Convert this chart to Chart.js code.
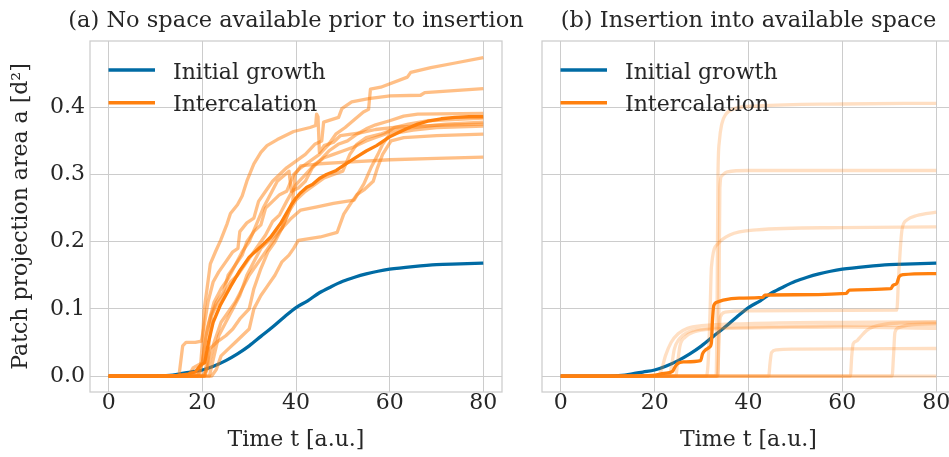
<!DOCTYPE html>
<html><head><meta charset="utf-8">
<script src="https://cdn.jsdelivr.net/npm/chart.js@4.4.1/dist/chart.umd.min.js"></script>
<style>
html,body{margin:0;padding:0;background:#fff;overflow:hidden;width:949px;height:457px;}
#wa{position:absolute;left:0;top:0;width:545px;height:457px;}
#wb{position:absolute;left:500px;top:0;width:470px;height:457px;}
</style></head><body>
<div id="wa"><canvas id="ca" width="545" height="457"></canvas></div>
<div id="wb"><canvas id="cb" width="470" height="457"></canvas></div>
<script>
// ---- data: [time, projection area] pairs ----
const xTickValues = [0, 20, 40, 60, 80];
const xTickLabels = ['0', '20', '40', '60', '80'];
const yTickValues = [0, 0.1, 0.2, 0.3, 0.4];
const yTickLabels = ['0.0', '0.1', '0.2', '0.3', '0.4'];

const initialGrowth = [[0,0],[10,0],[13,0.001],[15,0.003],[17.5,0.006],[20,0.009],[22.5,0.015],[25,0.023],[27.5,0.033],[30,0.045],[32.5,0.059],[35,0.073],[37.5,0.088],[40,0.102],[42.5,0.112],[45,0.124],[47.5,0.133],[50,0.141],[52.5,0.147],[55,0.152],[57.5,0.156],[60,0.159],[65,0.163],[70,0.166],[75,0.167],[80,0.168]];

// panel (a): mean intercalation and individual runs
const meanA = [[0,0],[10,0],[15,0.001],[17,0.003],[18.5,0.006],[19.6,0.016],[20.5,0.02],[21.3,0.05],[22.3,0.08],[23.8,0.105],[26,0.133],[28,0.157],[30,0.177],[32.4,0.192],[34.6,0.207],[36.7,0.227],[39,0.255],[40,0.265],[41,0.273],[42.3,0.281],[43.5,0.285],[45,0.294],[46.5,0.3],[48.6,0.306],[50.5,0.315],[52.9,0.326],[55,0.335],[57.2,0.343],[60,0.356],[62,0.363],[63.6,0.368],[66,0.375],[68.5,0.38],[71,0.383],[74,0.385],[77,0.386],[80,0.386]];
const runA1 = [[0,0],[14,0],[16,0.002],[19.5,0.004],[20,0.05],[20.4,0.1],[21,0.13],[21.7,0.167],[22.8,0.185],[23.9,0.202],[25.3,0.227],[26,0.242],[27.5,0.255],[28.5,0.268],[29.5,0.29],[31,0.316],[32.5,0.333],[33.8,0.343],[36,0.352],[39.5,0.364],[43,0.37],[44.2,0.373],[44.4,0.39],[44.7,0.386],[45,0.333],[46,0.343],[48,0.348],[49.5,0.358],[53.7,0.362],[57,0.367],[62,0.371],[70,0.373],[80,0.375]];
const runA2 = [[0,0],[15,0],[15.8,0.045],[16.5,0.05],[18.5,0.05],[19.8,0.052],[20.5,0.08],[21.2,0.11],[22.3,0.14],[23.5,0.155],[25,0.17],[26.5,0.185],[27.6,0.19],[28,0.215],[29.5,0.228],[31,0.235],[32,0.26],[33.5,0.275],[35,0.29],[36.5,0.3],[38,0.31],[40,0.32],[42,0.33],[44,0.345],[45.5,0.35],[45.9,0.378],[49.1,0.385],[49.8,0.398],[51.9,0.408],[55.5,0.413],[60.1,0.417],[66.6,0.418],[67.5,0.422],[80,0.428]];
const runA3 = [[0,0],[17,0],[18,0.012],[20,0.02],[20.8,0.06],[21.8,0.09],[23,0.11],[24.5,0.125],[25.5,0.15],[27,0.165],[28.5,0.18],[29.5,0.2],[31,0.215],[32.5,0.225],[33.5,0.25],[35,0.26],[36.5,0.27],[38,0.275],[39.5,0.3],[41,0.31],[43,0.32],[45,0.33],[47,0.345],[48.5,0.36],[50.5,0.37],[52.5,0.382],[54.4,0.393],[55.5,0.397],[55.9,0.427],[58.1,0.43],[63.8,0.445],[64.5,0.452],[68.8,0.459],[74,0.466],[80,0.474]];
const runA4 = [[0,0],[20,0],[21,0.01],[21.5,0.04],[23,0.05],[25,0.06],[26.5,0.07],[28,0.085],[30,0.1],[31,0.13],[32.5,0.16],[34,0.185],[35.5,0.2],[37,0.22],[38.5,0.245],[39.3,0.26],[39.8,0.3],[41,0.313],[45,0.316],[50,0.318],[60,0.322],[70,0.324],[80,0.326]];
const runA5 = [[0,0],[22,0],[23,0.01],[24,0.03],[25.5,0.04],[27,0.05],[28.5,0.06],[30,0.07],[31,0.1],[32.5,0.12],[34,0.135],[35.5,0.15],[37,0.17],[38.5,0.18],[39.5,0.19],[40.5,0.202],[45.2,0.207],[48.8,0.214],[50.2,0.241],[51.7,0.257],[53,0.27],[54.5,0.277],[56.5,0.29],[57.4,0.31],[58.5,0.33],[60.3,0.35],[63,0.355],[70,0.358],[80,0.36]];
const runA6 = [[0,0],[20.5,0],[21.5,0.02],[22.5,0.05],[24,0.08],[25.5,0.095],[27,0.11],[28.5,0.13],[30,0.15],[31.5,0.165],[33,0.18],[35,0.2],[37,0.22],[39,0.235],[41,0.247],[44.5,0.252],[48,0.257],[52.4,0.262],[54.5,0.286],[56,0.31],[57.5,0.33],[58.5,0.345],[60,0.36],[65,0.366],[70,0.37],[80,0.372]];
const runA7 = [[0,0],[21.5,0],[22.5,0.03],[23.5,0.06],[25,0.08],[26.5,0.1],[28,0.12],[29.5,0.15],[31,0.17],[32.5,0.19],[34,0.2],[35.5,0.21],[37,0.22],[38.5,0.245],[40,0.262],[42,0.275],[44,0.285],[46,0.295],[48,0.3],[50,0.305],[51.5,0.33],[53,0.345],[55,0.355],[58,0.36],[60,0.365],[65,0.37],[72,0.375],[80,0.378]];
const runA8 = [[0,0],[19,0],[20,0.02],[21,0.07],[22.5,0.11],[24,0.13],[25.5,0.145],[27,0.165],[28.5,0.185],[30,0.2],[31.5,0.225],[33,0.25],[34.5,0.27],[36,0.29],[38.5,0.305],[39,0.275],[40.5,0.28],[42,0.29],[43.5,0.31],[45,0.32],[47,0.335],[49,0.345],[51,0.35],[53,0.36],[55,0.368],[57,0.374],[60,0.38],[63,0.387],[66,0.39],[80,0.391]];
const runA9 = [[0,0],[20.5,0],[21.3,0.04],[22,0.09],[23,0.105],[24.5,0.12],[26,0.14],[27.5,0.15],[29,0.165],[30.5,0.18],[32,0.195],[33.5,0.21],[35,0.23],[36.5,0.24],[38,0.26],[40,0.285],[42,0.3],[44,0.315],[46,0.325],[48,0.33],[50,0.335],[52,0.34],[53.5,0.345],[55,0.35],[57,0.355],[59,0.36],[61,0.37],[64,0.375],[68,0.38],[80,0.384]];

// panel (b): mean intercalation and individual runs
const meanB = [[0,0],[15,0],[19.5,0.001],[22,0.004],[23.8,0.007],[24.3,0.013],[24.8,0.018],[26.1,0.021],[29.8,0.023],[30.2,0.033],[30.7,0.038],[31.7,0.043],[32.1,0.05],[32.3,0.08],[32.6,0.105],[33.3,0.11],[34.6,0.113],[38,0.116],[43,0.117],[43.5,0.1205],[50,0.121],[60.8,0.123],[61.5,0.128],[70.3,0.13],[70.8,0.135],[71.6,0.138],[72.1,0.148],[73,0.151],[80,0.1526]];
const runB1 = [[0,0],[33.1,0],[33.3,0.1],[33.5,0.3],[33.8,0.35],[34.3,0.375],[35.2,0.39],[37,0.398],[42,0.402],[60,0.405],[80,0.406]];
const runB2 = [[0,0],[33.5,0],[33.7,0.1],[33.9,0.28],[34.3,0.298],[35.5,0.304],[40,0.306],[80,0.306]];
const runB3 = [[0,0],[31,0],[31.4,0.02],[31.8,0.093],[32.1,0.162],[33.5,0.197],[36,0.21],[41.7,0.2175],[59.5,0.221],[80,0.222]];
const runB4 = [[0,0],[33.4,0],[33.7,0.05],[34,0.088],[35,0.095],[40,0.097],[71.6,0.098],[72,0.15],[72.7,0.2175],[73.7,0.232],[75.9,0.239],[80,0.244]];
const runB5 = [[0,0],[20.5,0],[21.5,0.01],[22.3,0.03],[23.5,0.05],[25,0.063],[27,0.071],[30,0.075],[40,0.078],[60,0.08],[80,0.081]];
const runB6 = [[0,0],[23,0],[23.6,0.015],[24.2,0.04],[25.2,0.055],[27,0.065],[30,0.07],[40,0.073],[60,0.075],[80,0.076]];
const runB7 = [[0,0],[24.5,0],[24.9,0.02],[25.4,0.045],[26.5,0.058],[28.5,0.066],[32,0.07],[45,0.072],[60,0.073],[80,0.071]];
const runB8 = [[0,0],[44.3,0],[44.6,0.02],[44.9,0.035],[46,0.039],[50,0.04],[80,0.041]];
const runB9 = [[0,0],[61.7,0],[62,0.03],[62.3,0.048],[63,0.052],[63.8,0.058],[65.2,0.068],[66.5,0.073],[68.8,0.077],[72,0.079],[80,0.08]];
const runB10 = [[0,0],[70.6,0],[70.9,0.03],[71.2,0.065],[72,0.072],[74,0.076],[80,0.078]];
const runB11 = [[0,0],[80,0]];

const runsA = [runA1, runA2, runA3, runA4, runA5, runA6, runA7, runA8, runA9];
const runsB = [runB1, runB2, runB3, runB4, runB5, runB6, runB7, runB8, runB9, runB10, runB11];

// ---- styling ----
const BLUE = '#006BA4';
const ORANGE = '#FF800E';
const TEXT = '#262626';
const GRID = '#cccccc';
const FONT = "'DejaVu Serif', serif";

const toXY = arr => arr.map(p => ({x: p[0], y: p[1]}));

const panelDecor = {
  id: 'panelDecor',
  afterDatasetsDraw(chart, args, opts) {
    const {ctx, chartArea: a} = chart;
    ctx.save();
    ctx.strokeStyle = GRID; ctx.lineWidth = 1.25;
    ctx.strokeRect(a.left, a.top, a.right - a.left, a.bottom - a.top);
    const items = chart.data.datasets.filter(d => d.inLegend);
    ctx.font = '22px ' + FONT;
    items.forEach((d, i) => {
      const y = a.top + 29 + i * 32.7;
      ctx.strokeStyle = d.borderColor; ctx.lineWidth = 3.5; ctx.lineCap = 'butt';
      ctx.beginPath(); ctx.moveTo(a.left + 18.5, y); ctx.lineTo(a.left + 65, y); ctx.stroke();
      ctx.fillStyle = TEXT; ctx.textAlign = 'left'; ctx.textBaseline = 'alphabetic';
      ctx.fillText(d.label, a.left + 83, y + 8.5);
    });
    ctx.font = '22.5px ' + FONT;
    ctx.fillStyle = TEXT; ctx.textAlign = 'center'; ctx.textBaseline = 'alphabetic';
    ctx.fillText(opts.title, (a.left + a.right) / 2, 27);
    ctx.restore();
  }
};

function makeChart(id, runs, alpha, mean, title, showY, yWidth, padRight, smoothRuns) {
  const common = {borderWidth: 3.3, pointRadius: 0, fill: false, borderJoinStyle: 'round', borderCapStyle: 'butt'};
  const runStyle = smoothRuns ? {cubicInterpolationMode: 'monotone'} : {tension: 0};
  const datasets = [];
  datasets.push(Object.assign({label: 'Initial growth', data: toXY(initialGrowth), borderColor: BLUE, order: 2, inLegend: true, cubicInterpolationMode: 'monotone'}, common));
  runs.forEach((r, i) => datasets.push(Object.assign({label: 'run ' + (i + 1), data: toXY(r), borderColor: 'rgba(255,128,14,' + alpha + ')', order: 1}, runStyle, common)));
  datasets.push(Object.assign({label: 'Intercalation', data: toXY(mean), borderColor: ORANGE, order: 0, inLegend: true}, runStyle, common));
  return new Chart(document.getElementById(id), {
    type: 'line',
    data: {datasets},
    plugins: [panelDecor],
    options: {
      responsive: false, animation: false, devicePixelRatio: 1,
      layout: {padding: {top: 41, right: padRight, left: 0, bottom: 0}},
      plugins: {legend: {display: false}, tooltip: {enabled: false}, title: {display: false}, panelDecor: {title}},
      scales: {
        x: {
          type: 'linear', min: -4, max: 84,
          afterBuildTicks: s => { s.ticks = xTickValues.map(v => ({value: v})); },
          afterFit: s => { s.height = 65; },
          ticks: {callback: (v, i) => xTickLabels[i], font: {family: FONT, size: 22}, color: TEXT, padding: -2, maxRotation: 0, autoSkip: false},
          grid: {color: GRID, lineWidth: 1, drawTicks: false},
          border: {display: false},
          title: {display: true, text: 'Time t [a.u.]', font: {family: FONT, size: 22}, color: TEXT, padding: {top: 0, bottom: 4}}
        },
        y: {
          type: 'linear', min: -0.02375, max: 0.49875,
          afterBuildTicks: s => { s.ticks = yTickValues.map(v => ({value: v})); },
          afterFit: s => { s.width = yWidth; },
          ticks: {display: showY, callback: (v, i) => yTickLabels[i], font: {family: FONT, size: 22}, color: TEXT, padding: 5},
          grid: {color: GRID, lineWidth: 1, drawTicks: false},
          border: {display: false},
          title: {display: showY, text: 'Patch projection area a [d²]', font: {family: FONT, size: 22}, color: TEXT, padding: {top: 8, bottom: 0}}
        }
      }
    }
  });
}

makeChart('ca', runsA, 0.5, meanA, '(a) No space available prior to insertion', true, 90, 43, false);
makeChart('cb', runsB, 0.25, meanB, '(b) Insertion into available space', false, 42, 15, true);
</script>
</body></html>
